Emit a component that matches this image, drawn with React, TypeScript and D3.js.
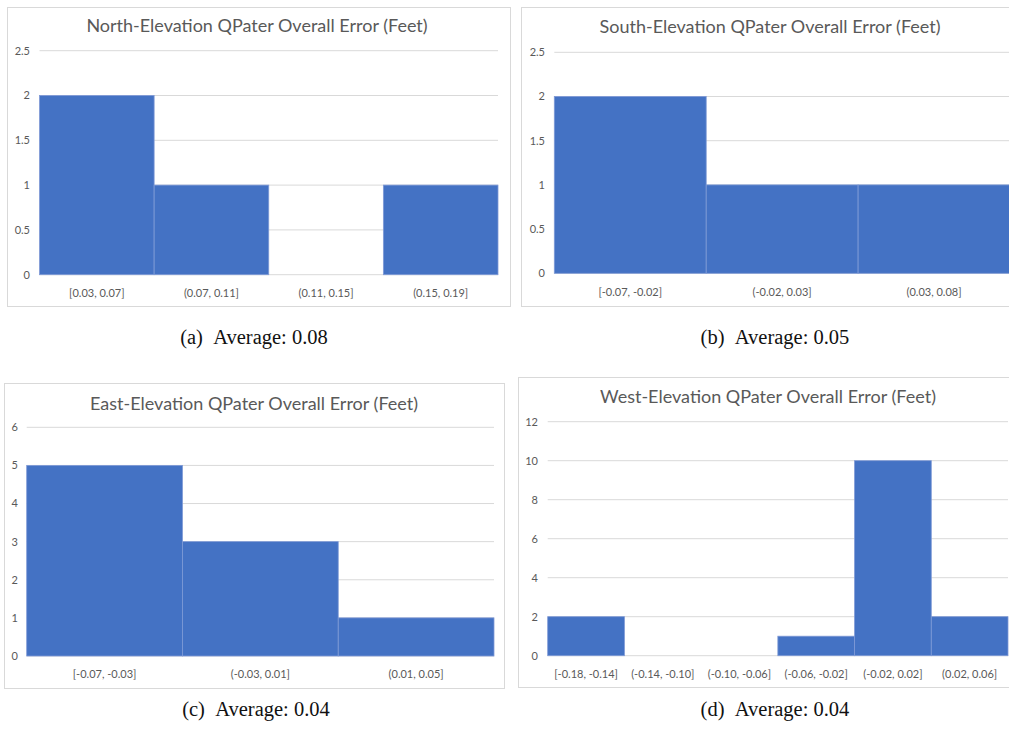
import React from "react";
import * as d3 from "d3";

const northCats = ["[0.03, 0.07]", "(0.07, 0.11]", "(0.11, 0.15]", "(0.15, 0.19]"];
const northVals = [2, 1, 0, 1];
const northTicks = [0, 0.5, 1, 1.5, 2, 2.5];

const southCats = ["[-0.07, -0.02]", "(-0.02, 0.03]", "(0.03, 0.08]"];
const southVals = [2, 1, 1];
const southTicks = [0, 0.5, 1, 1.5, 2, 2.5];

const eastCats = ["[-0.07, -0.03]", "(-0.03, 0.01]", "(0.01, 0.05]"];
const eastVals = [5, 3, 1];
const eastTicks = [0, 1, 2, 3, 4, 5, 6];

const westCats = ["[-0.18, -0.14]", "(-0.14, -0.10]", "(-0.10, -0.06]", "(-0.06, -0.02]", "(-0.02, 0.02]", "(0.02, 0.06]"];
const westVals = [2, 0, 0, 1, 10, 2];
const westTicks = [0, 2, 4, 6, 8, 10, 12];

const titles = [
  "North-Elevation QPater Overall Error (Feet)",
  "South-Elevation QPater Overall Error (Feet)",
  "East-Elevation QPater Overall Error (Feet)",
  "West-Elevation QPater Overall Error (Feet)",
];
const captions = ["(a)\u2002Average: 0.08", "(b)\u2002Average: 0.05", "(c)\u2002Average: 0.04", "(d)\u2002Average: 0.04"];

const panelData = [
  { cats: northCats, vals: northVals, ticks: northTicks },
  { cats: southCats, vals: southVals, ticks: southTicks },
  { cats: eastCats, vals: eastVals, ticks: eastTicks },
  { cats: westCats, vals: westVals, ticks: westTicks },
];

// layout (pixel geometry)
const layout = [
  { box: [7, 7, 510, 306], plot: [39.5, 498, 274.7, 50.7], title: [257, 32], ylab: 30, xlab: 293, cap: [254, 344] },
  { box: [521, 7, 1015, 306], plot: [554.3, 1010, 273.3, 52.3], title: [770, 33], ylab: 545, xlab: 292, cap: [775, 344] },
  { box: [4, 383, 504, 688], plot: [26.7, 494, 656, 427.3], title: [254, 410], ylab: 18, xlab: 674, cap: [256, 716] },
  { box: [518, 377, 1015, 687], plot: [547.7, 1008, 655.7, 421.7], title: [768, 403], ylab: 538, xlab: 674, cap: [775, 716] },
];

const FONT = "Lato, 'Open Sans', sans-serif";
const BAR = "#4472C4";
const GRID = "#d9d9d9";
const TXT = "#595959";

function Panel({ i }: { i: number }) {
  const d = panelData[i];
  const L = layout[i];
  const [x0, x1, y0, y1] = L.plot;
  const x = d3.scaleBand<string>().domain(d.cats).range([x0, x1]).padding(0);
  const y = d3.scaleLinear().domain([0, d3.max(d.ticks) as number]).range([y0, y1]);
  const [bx0, by0, bx1, by1] = L.box;
  return (
    <g>
      <rect x={bx0 + 0.5} y={by0 + 0.5} width={bx1 - bx0} height={by1 - by0} fill="#fff" stroke={GRID} strokeWidth={1} />
      <text x={L.title[0]} y={L.title[1]} textAnchor="middle" fontFamily={FONT} fontSize={18} fill={TXT}>
        {titles[i]}
      </text>
      {d.ticks.map((t) => (
        <g key={t}>
          <line x1={x0} x2={x1} y1={y(t)} y2={y(t)} stroke={GRID} strokeWidth={1} />
          <text x={L.ylab} y={y(t)} dy="0.35em" textAnchor="end" fontFamily={FONT} fontSize={11} fill={TXT}>
            {t}
          </text>
        </g>
      ))}
      {d.cats.map((c, k) =>
        d.vals[k] > 0 ? (
          <rect
            key={c}
            x={x(c)}
            y={y(d.vals[k])}
            width={x.bandwidth()}
            height={y(0) - y(d.vals[k])}
            fill={BAR}
            stroke="#7f9ad6"
            strokeWidth={0.8}
          />
        ) : null
      )}
      {d.cats.map((c) => (
        <text
          key={"l" + c}
          x={(x(c) as number) + x.bandwidth() / 2}
          y={L.xlab}
          dy="0.35em"
          textAnchor="middle"
          fontFamily={FONT}
          fontSize={11}
          fill={TXT}
        >
          {c}
        </text>
      ))}
    </g>
  );
}

export default function App() {
  return (
    <svg
      width={1009}
      height={734}
      style={{ position: "absolute", left: 0, top: 0, background: "#fff" }}
    >
      <rect x={0} y={0} width={1009} height={734} fill="#fff" />
      {[0, 1, 2, 3].map((i) => (
        <Panel key={i} i={i} />
      ))}
      {captions.map((c, i) => (
        <text
          key={c}
          x={layout[i].cap[0]}
          y={layout[i].cap[1]}
          textAnchor="middle"
          fontFamily="'Liberation Serif', 'DejaVu Serif', serif"
          fontSize={20.5}
          fill="#111"
        >
          {c}
        </text>
      ))}
    </svg>
  );
}
